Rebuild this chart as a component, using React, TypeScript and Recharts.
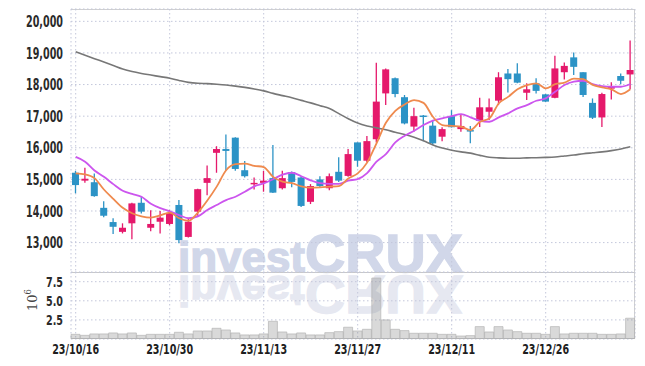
import React from 'react';
import { ComposedChart, BarChart, Bar, Line, XAxis, YAxis, CartesianGrid } from 'recharts';

const dates = [
  '23/10/16', '23/10/17', '23/10/18', '23/10/19', '23/10/20', '23/10/23', '23/10/24', '23/10/25', '23/10/26', '23/10/27',
  '23/10/30', '23/10/31', '23/11/01', '23/11/02', '23/11/03', '23/11/06', '23/11/07', '23/11/08', '23/11/09', '23/11/10',
  '23/11/13', '23/11/14', '23/11/15', '23/11/16', '23/11/17', '23/11/20', '23/11/21', '23/11/22', '23/11/23', '23/11/24',
  '23/11/27', '23/11/28', '23/11/29', '23/11/30', '23/12/01', '23/12/04', '23/12/05', '23/12/06', '23/12/07', '23/12/08',
  '23/12/11', '23/12/12', '23/12/13', '23/12/14', '23/12/15', '23/12/18', '23/12/19', '23/12/20', '23/12/21', '23/12/22',
  '23/12/26', '23/12/27', '23/12/28', '24/01/02', '24/01/03', '24/01/04', '24/01/05', '24/01/08', '24/01/09', '24/01/10',
];

const opens = [
  15210, 14960, 14910, 14100, 13650, 13340, 13610, 14260, 13470, 13660,
  13590, 14190, 13180, 13980, 14890, 15840, 15960, 16320, 15290, 14850,
  14890, 15040, 14720, 15230, 15060, 14290, 15000, 14720, 15240, 15110,
  16170, 15590, 16270, 17720, 18200, 17600, 16670, 17020, 16700, 16350,
  17000, 16590, 16560, 16850, 17140, 17490, 18350, 18350, 17740, 18040,
  17690, 17580, 18390, 18860, 18390, 17420, 16960, 17870, 18270, 18320,
];
const highs = [
  15270, 15370, 15190, 14310, 13770, 13610, 14260, 14450, 14020, 14000,
  14030, 14350, 13770, 14700, 15440, 16050, 16420, 16330, 15580, 15060,
  15270, 16090, 15270, 15250, 15100, 14850, 15100, 15190, 15700, 15960,
  16170, 16370, 18690, 18510, 18220, 17670, 17270, 17040, 16850, 16650,
  17190, 17040, 16690, 17580, 17560, 18390, 18490, 18670, 18040, 18200,
  17700, 18910, 18700, 19010, 18390, 17560, 17740, 18070, 18350, 19390,
];
const lows = [
  14560, 14890, 14450, 13800, 13270, 13290, 13110, 13920, 13360, 13290,
  13550, 12980, 13160, 13850, 14500, 15210, 15270, 15270, 15060, 14680,
  14610, 14570, 14680, 14750, 14130, 14220, 14750, 14660, 14920, 15080,
  15400, 15540, 16170, 17350, 17600, 16740, 16510, 16210, 16090, 16210,
  16640, 16510, 16140, 16660, 16880, 17350, 17750, 18040, 17510, 17720,
  17450, 17570, 18160, 18300, 17610, 16910, 16660, 17530, 18010, 17850,
];
const closes = [
  14820, 15020, 14470, 13850, 13500, 13470, 14240, 13980, 13590, 13790,
  13940, 13080, 13660, 14690, 15040, 15960, 15900, 15330, 15100, 14890,
  14960, 14580, 15040, 14920, 14160, 14790, 14790, 15100, 14960, 15800,
  15590, 16210, 17460, 18480, 17700, 16770, 17000, 16990, 16140, 16590,
  16650, 16690, 16520, 17280, 17280, 18230, 18170, 18060, 17850, 17800,
  17460, 18510, 18590, 18560, 17670, 16950, 17700, 17930, 18120, 18460,
];

const ma5 = [
  15190, 15160, 15040, 14680, 14380, 14100, 13930, 13830, 13790, 13860,
  13950, 13770, 13690, 13950, 14330, 14770, 15290, 15480, 15500, 15430,
  15390, 15080, 14930, 14880, 14780, 14740, 14750, 14770, 14790, 15030,
  15190, 15530, 16140, 16790, 17170, 17370, 17510, 17420, 16980, 16720,
  16690, 16665, 16560, 16820, 16930, 17400, 17610, 17850, 17980, 18040,
  17880, 18010, 18060, 18190, 18170, 17990, 17910, 17850, 17700, 17850,
];
const ma20 = [
  15710, 15560, 15280, 15080, 14850, 14640, 14540, 14450, 14230, 14090,
  13990, 13870, 13770, 13830, 14030, 14190, 14345, 14450, 14610, 14780,
  14873, 15005, 15150, 15209, 15100, 14970, 14880, 14860, 14860, 14960,
  15010, 15200, 15560, 15800, 16170, 16380, 16540, 16720, 16860, 16930,
  17003, 17066, 16962, 16854, 16823, 16962, 17088, 17246, 17351, 17487,
  17563, 17772, 17984, 18089, 18120, 18016, 17953, 17930, 17930, 18016,
];
const ma60 = [
  19040, 18930, 18820, 18710, 18600, 18490, 18410, 18350, 18300, 18250,
  18200, 18130, 18070, 18040, 18030, 18010, 17985, 17950, 17910, 17860,
  17800, 17720, 17650, 17580, 17500, 17420, 17330, 17240, 17080, 16920,
  16780, 16690, 16630, 16570, 16490, 16420, 16330, 16220, 16090, 15990,
  15920, 15870, 15830, 15760, 15700, 15680, 15670, 15670, 15680, 15685,
  15695, 15710, 15740, 15770, 15810, 15840, 15870, 15910, 15960, 16030,
];

const volumes = [
  610000, 480000, 660000, 660000, 790000, 660000, 790000, 480000, 610000, 610000,
  610000, 880000, 660000, 1050000, 1050000, 1400000, 1180000, 790000, 530000, 530000,
  660000, 2320000, 920000, 660000, 790000, 530000, 530000, 830000, 960000, 1540000,
  1050000, 1270000, 7980000, 2500000, 1270000, 1100000, 750000, 750000, 750000, 610000,
  610000, 390000, 440000, 1620000, 920000, 1620000, 1180000, 960000, 750000, 750000,
  610000, 1620000, 660000, 750000, 750000, 750000, 610000, 610000, 660000, 2720000,
];

const priceTicks = [13000, 14000, 15000, 16000, 17000, 18000, 19000, 20000];
const volumeTicks = [2500000, 5000000, 7500000];
const dateTicks = ['23/10/16', '23/10/30', '23/11/13', '23/11/27', '23/12/11', '23/12/26'];

const data = dates.map((d, i) => ({
  date: d,
  open: opens[i],
  high: highs[i],
  low: lows[i],
  close: closes[i],
  range: [lows[i], highs[i]],
  ma5: ma5[i],
  ma20: ma20[i],
  ma60: ma60[i],
  volume: volumes[i],
}));

const RED = '#E5196B';
const BLUE = '#2C93C6';
const GRID = '#c3c7db';
const FONT = '"DejaVu Sans Condensed", "DejaVu Sans", sans-serif';

const Candle = (props: any) => {
  const { x, y, width, height, payload } = props;
  if (x == null || y == null || !payload) return null;
  const top = Math.min(y, y + height);
  const h = Math.abs(height);
  const { open, close, high, low } = payload;
  const span = high - low || 1;
  const py = (p: number) => top + ((high - p) / span) * h;
  const color = close >= open ? RED : BLUE;
  const bTop = py(Math.max(open, close));
  const bBot = py(Math.min(open, close));
  const cx = x + width / 2;
  return (
    <g>
      <line x1={cx} x2={cx} y1={top} y2={top + h} stroke={color} strokeWidth={1.3} />
      <rect x={x} y={bTop} width={width} height={Math.max(bBot - bTop, 1.5)} fill={color} />
    </g>
  );
};

const fmtPrice = (v: number) => v.toLocaleString('en-US');
const fmtVol = (v: number) => (v / 1e6).toFixed(1);

const PriceTick = (props: any) => {
  const { x, y, payload } = props;
  return (
    <text x={x} y={y} dy="0.36em" textAnchor="end" fontFamily={FONT} fontWeight={700} fontSize={15.5} fill="#2a2a2a"
      textLength={37} lengthAdjust="spacingAndGlyphs">
      {fmtPrice(payload.value)}
    </text>
  );
};
const VolTick = (props: any) => {
  const { x, y, payload } = props;
  return (
    <text x={x} y={y} dy="0.36em" textAnchor="end" fontFamily={FONT} fontWeight={700} fontSize={14} fill="#2a2a2a"
      textLength={17} lengthAdjust="spacingAndGlyphs">
      {fmtVol(payload.value)}
    </text>
  );
};
const DateTick = (props: any) => {
  const { x, y, payload } = props;
  return (
    <text x={x} y={y} dy="0.72em" textAnchor="middle" fontFamily={FONT} fontWeight={700} fontSize={14} fill="#1e1e1e"
      textLength={47} lengthAdjust="spacingAndGlyphs">
      {payload.value}
    </text>
  );
};

export default function App() {
  return (
    <div style={{ position: 'absolute', left: 0, top: 0, width: 645, height: 366, background: '#fff' }}>
      <svg width={645} height={366} style={{ position: 'absolute', left: 0, top: 0 }}>
        <defs>
          <clipPath id="volclip">
            <rect x={71} y={273} width={564} height={66} />
          </clipPath>
        </defs>
        <g fill="#d1d7e9" stroke="#d1d7e9" strokeWidth={1.4} fontFamily='"Liberation Sans", Arial, sans-serif' fontWeight={700}>
          <text x={178} y={271.5} fontSize={43} textLength={127} lengthAdjust="spacingAndGlyphs">invest</text>
          <text x={305} y={271.5} fontSize={54} textLength={158} lengthAdjust="spacingAndGlyphs">CRUX</text>
        </g>
        <g clipPath="url(#volclip)">
          <g transform="translate(0,547) scale(1,-1)" fill="#e6e8f1" stroke="#e6e8f1" strokeWidth={1.4} fontFamily='"Liberation Sans", Arial, sans-serif' fontWeight={700}>
            <text x={178} y={271.5} fontSize={43} textLength={127} lengthAdjust="spacingAndGlyphs">invest</text>
            <text x={305} y={271.5} fontSize={54} textLength={158} lengthAdjust="spacingAndGlyphs">CRUX</text>
          </g>
        </g>
        <line x1={71} x2={635} y1={9.5} y2={9.5} stroke="#d0d0d0" />
        <line x1={634.5} x2={634.5} y1={9} y2={339} stroke="#d0d0d0" />
        <line x1={71} x2={635} y1={272.5} y2={272.5} stroke="#c8c8c8" />
        <line x1={71} x2={635} y1={338.5} y2={338.5} stroke="#c8c8c8" />
        <text transform="translate(37,311) rotate(-90)" fontFamily='"DejaVu Serif", serif' fontSize={13} fill="#444">
          10<tspan dy={-6} fontSize={8.5}>6</tspan>
        </text>
      </svg>

      <div style={{ position: 'absolute', left: 0, top: 0 }}>
        <ComposedChart width={645} height={273} data={data} margin={{ top: 9, right: 10, bottom: 1, left: 0 }}>
          <CartesianGrid stroke={GRID} strokeDasharray="1.5 2.5" />
          <XAxis dataKey="date" hide ticks={dateTicks} interval={0} />
          <YAxis
            domain={[12070, 20390]}
            ticks={priceTicks}
            interval={0}
            width={71}
            axisLine={false}
            tickLine={false}
            tick={<PriceTick />}
            allowDataOverflow
          />
          <Bar dataKey="range" barSize={7} shape={<Candle />} isAnimationActive={false} />
          <Line type="monotone" dataKey="ma60" stroke="#777777" strokeWidth={1.6} dot={false} isAnimationActive={false} />
          <Line type="monotone" dataKey="ma20" stroke="#CC55EE" strokeWidth={1.8} dot={false} isAnimationActive={false} />
          <Line type="monotone" dataKey="ma5" stroke="#EF8A4E" strokeWidth={1.8} dot={false} isAnimationActive={false} />
        </ComposedChart>
      </div>

      <div style={{ position: 'absolute', left: 0, top: 272 }}>
        <BarChart width={645} height={94} data={data} margin={{ top: 0, right: 10, bottom: 0, left: 0 }} barCategoryGap={0}>
          <CartesianGrid stroke={GRID} strokeDasharray="1.5 2.5" />
          <XAxis
            dataKey="date"
            ticks={dateTicks}
            interval={0}
            height={27}
            axisLine={false}
            tickLine={false}
            tickSize={0}
            tickMargin={5}
            tick={<DateTick />}
          />
          <YAxis
            domain={[0, 8770000]}
            ticks={volumeTicks}
            interval={0}
            width={71}
            axisLine={false}
            tickLine={false}
            tick={<VolTick />}
            allowDataOverflow
          />
          <Bar dataKey="volume" fill="#808080" fillOpacity={0.3} stroke="#b5b5b5" strokeWidth={0.7} isAnimationActive={false} />
        </BarChart>
      </div>
    </div>
  );
}
